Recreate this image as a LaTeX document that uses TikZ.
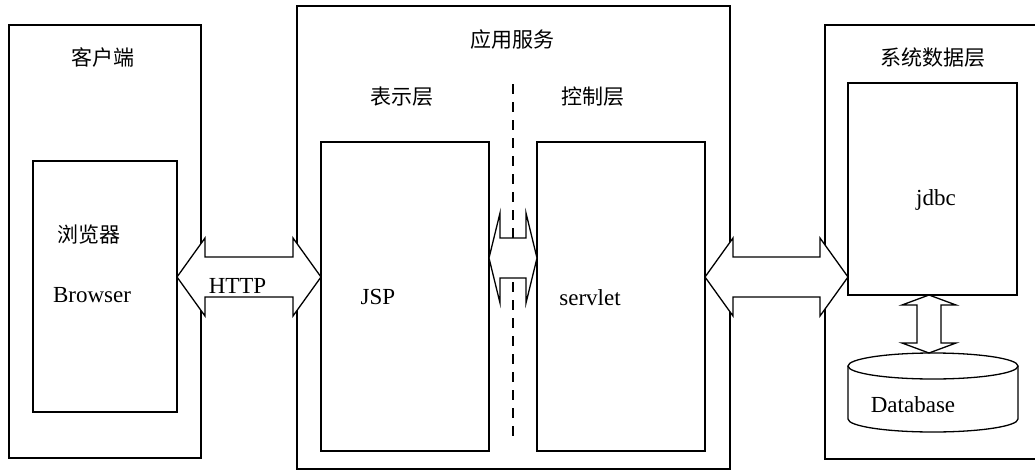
\documentclass[tikz,border=0pt]{standalone}
\usepackage{fontspec}
\setmainfont{Liberation Serif}
\newfontfamily\cjk{Noto Sans CJK SC}
\usetikzlibrary{calc,fit}
\tikzset{
  box/.style={draw, line width=1.5pt, inner sep=0pt, outer sep=0pt},
  blk/.style={draw, fill=white, line width=1.3pt, line join=miter},
  zh/.style={inner sep=0pt, font=\fontsize{21}{25}\cjk},
  en/.style={inner sep=0pt, anchor=base, font=\fontsize{23}{27}\selectfont},
}
\newcommand\hdarrow[5]{%
  \draw[blk] (#1) -- ++(#3,-#4) -- ++(0,#4-#5) -- ($(#2)+(-#3,-#5)$) -- ++(0,#5-#4)
    -- (#2) -- ++(-#3,#4) -- ++(0,#5-#4) -- ($(#1)+(#3,#5)$) -- ++(0,#4-#5) -- cycle;}
\newcommand\vdarrow[5]{%
  \draw[blk] (#1) -- ++(-#4,#3) -- ++(#4-#5,0) -- ($(#2)+(-#5,-#3)$) -- ++(#5-#4,0)
    -- (#2) -- ++(#4,-#3) -- ++(#5-#4,0) -- ($(#1)+(#5,#3)$) -- ++(#4-#5,0) -- cycle;}
\begin{document}
\begin{tikzpicture}[x=1pt,y=-1pt]
\useasboundingbox (0,0) rectangle (1035,471);
% boxes
\node[box, fit={(9,25) (201,458)}] (client) {};
\node[box, fit={(33,161) (177,412)}] (browser) {};
\node[box, fit={(297,6) (730,469)}] (app) {};
\node[box, fit={(321,142) (489,451)}] (jsp) {};
\node[box, fit={(537,142) (705,451)}] (servlet) {};
\node[box, fit={(848,83) (1017,295)}] (jdbc) {};
\draw[line width=1.5pt] (1036,25) -- (825,25) -- (825,459) -- (1036,459);
% database cylinder
\coordinate (dbtop) at (929,353);
\draw[line width=1.3pt, fill=white] (848,366) -- (848,419) arc[start angle=180, end angle=0, x radius=85, y radius=13] -- (1018,366);
\draw[line width=1.3pt] (933,366) ellipse[x radius=85, y radius=13];
% dashed separator
\coordinate (d1) at (513,84);
\coordinate (d2) at (513,443);
\draw[line width=2pt, dash pattern=on 10pt off 8pt] (d1) -- (d2);
% arrows
\coordinate (y1) at (0,277);
\coordinate (y2) at (0,258);
\coordinate (vx) at (929,0);
\coordinate (a1l) at (browser.east |- y1);
\coordinate (a1r) at (jsp.west |- y1);
\coordinate (a2l) at (jsp.east |- y2);
\coordinate (a2r) at (servlet.west |- y2);
\coordinate (a3l) at (servlet.east |- y1);
\coordinate (a3r) at (jdbc.west |- y1);
\coordinate (a4t) at (jdbc.south -| vx);
\hdarrow{a1l}{a1r}{28}{39}{20}
\hdarrow{a2l}{a2r}{11}{45}{20}
\hdarrow{a3l}{a3r}{28}{39}{20}
\vdarrow{a4t}{dbtop}{10}{27}{12}
% texts
\node[zh] (tclient) at (103,57) {客户端};
\node[zh] (tapp) at (512,40) {应用服务};
\node[zh] (tpres) at (402,97) {表示层};
\node[zh] (tctrl) at (593,97) {控制层};
\node[zh] (tdata) at (933,58) {系统数据层};
\node[zh] (tbrowser) at (89,235) {浏览器};
\node[en] (thttp) at (237.5,293) {HTTP};
\node[en] (tbrowseren) at (92,302) {Browser};
\node[en] (tjsp) at (378,304) {JSP};
\node[en] (tservlet) at (590,305) {servlet};
\node[en] (tjdbc) at (936,205) {jdbc};
\node[en] (tdb) at (913,412) {Database};
\end{tikzpicture}
\end{document}
